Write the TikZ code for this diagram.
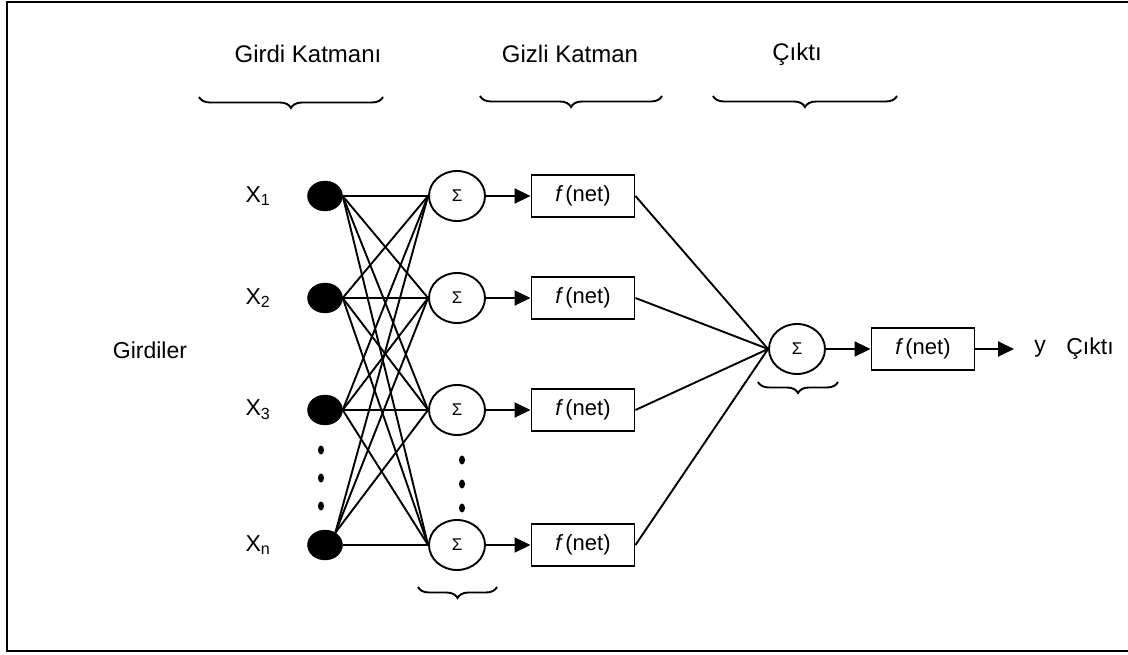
\documentclass[tikz,border=0pt]{standalone}
\usepackage{fontspec}
\setmainfont{Liberation Sans}
\usetikzlibrary{arrows.meta, shapes.geometric, decorations.pathreplacing}
\tikzset{
  % an input unit
  inp/.style  = {draw, fill=black, ellipse, inner sep=0pt,
                 minimum width=35pt, minimum height=30pt},
  % a summing unit
  sm/.style   = {draw, ellipse, line width=1.9pt, inner sep=0pt,
                 minimum width=56pt, minimum height=50pt,
                 font=\fontsize{17}{19}\selectfont},
  % an activation box
  fn/.style   = {draw, line width=1.9pt, inner sep=0pt,
                 minimum width=103pt, minimum height=42pt,
                 font=\fontsize{22}{25}\selectfont},
  % a weight line
  wt/.style   = {line width=1.9pt},
  % a signal arrow
  tr/.style   = {-{Triangle[length=16pt,width=15pt]}, line width=1.9pt},
  % a "more units" dot
  dt/.style   = {fill=black, ellipse, inner sep=0pt,
                 minimum width=6pt, minimum height=9pt},
  % a label
  lb/.style   = {font=\fontsize{23}{27}\selectfont, inner sep=0pt},
  % a layer heading
  hd/.style   = {font=\fontsize{24}{28}\selectfont, inner sep=0pt},
  % a grouping brace
  brc/.style  = {decorate, line width=1.9pt,
                 decoration={brace, mirror, amplitude=11pt}},
}

\begin{document}
\begin{tikzpicture}[x=1pt, y=-1pt]
  \useasboundingbox (0,0) rectangle (1128,655);
  \draw[line width=2.4pt] (1140,2) -- (7,2) -- (7,651) -- (1140,651);
  % --- headings ---
  \node[hd] (hin)  at (308,54) {Girdi Katmanı};
  \node[hd] (hhid) at (570,54) {Gizli Katman};
  \node[hd] (hout) at (797,54) {Çıktı};
  \draw[brc] (199,97) -- (383,97);
  \draw[brc] (480,96) -- (662,96);
  \draw[brc] (713,96) -- (897,96);
  % --- inputs ---
  \node[lb] (gir) at (150,350) {Girdiler};
  \node[lb] (l1) at (258,196) {X\textsubscript{1}};
  \node[lb] (l2) at (258,298) {X\textsubscript{2}};
  \node[lb] (l3) at (258,410) {X\textsubscript{3}};
  \node[lb] (ln) at (258,545) {X\textsubscript{n}};
  \node[inp] (x1) at (325,196) {};
  \node[inp] (x2) at (325,298) {};
  \node[inp] (x3) at (325,410) {};
  \node[inp] (xn) at (325,545) {};
  \node[dt] (xd1) at (321,450) {};
  \node[dt] (xd2) at (321,478) {};
  \node[dt] (xd3) at (321,506) {};
  % --- hidden layer ---
  \node[sm] (s1) at (457,196) {Σ};
  \node[sm] (s2) at (457,298) {Σ};
  \node[sm] (s3) at (457,410) {Σ};
  \node[sm] (sn) at (457,545) {Σ};
  \node[dt] (sd1) at (462,460) {};
  \node[dt] (sd2) at (462,484) {};
  \node[dt] (sd3) at (462,508) {};
  \node[fn] (f1) at (583,196) {\textit{f}\kern2pt(net)};
  \node[fn] (f2) at (583,298) {\textit{f}\kern2pt(net)};
  \node[fn] (f3) at (583,410) {\textit{f}\kern2pt(net)};
  \node[fn] (fn) at (583,545) {\textit{f}\kern2pt(net)};
  \draw[brc] (418,587) -- (497,587);
  % --- weights ---
  \draw[wt] (x1.east) -- (s1.west);
  \draw[wt] (x1.east) -- (s2.west);
  \draw[wt] (x1.east) -- (s3.west);
  \draw[wt] (x1.east) -- (sn.west);
  \draw[wt] (x2.east) -- (s1.west);
  \draw[wt] (x2.east) -- (s2.west);
  \draw[wt] (x2.east) -- (s3.west);
  \draw[wt] (x2.east) -- (sn.west);
  \draw[wt] (x3.east) -- (s1.west);
  \draw[wt] (x3.east) -- (s2.west);
  \draw[wt] (x3.east) -- (s3.west);
  \draw[wt] (x3.east) -- (sn.west);
  \draw[wt] (xn.50) -- (s1.west);
  \draw[wt] (xn.50) -- (s2.west);
  \draw[wt] (xn.50) -- (s3.west);
  \draw[wt] (xn.east) -- (sn.west);
  \draw[tr] (s1) -- (f1);
  \draw[tr] (s2) -- (f2);
  \draw[tr] (s3) -- (f3);
  \draw[tr] (sn) -- (fn);
  % --- output ---
  \node[sm] (so) at (797,349) {Σ};
  \node[fn] (fo) at (923,349) {\textit{f}\kern2pt(net)};
  \coordinate (yo) at (1014,349);
  \node[lb] (ly) at (1040,349) {y};
  \node[lb] (lc) at (1090,349) {Çıktı};
  \draw[wt] (f1.east) -- (so.west);
  \draw[wt] (f2.east) -- (so.west);
  \draw[wt] (f3.east) -- (so.west);
  \draw[wt] (fn.east) -- (so.west);
  \draw[tr] (so) -- (fo);
  \draw[tr] (fo) -- (yo);
  \draw[brc] (758,382) -- (838,382);
\end{tikzpicture}
\end{document}
